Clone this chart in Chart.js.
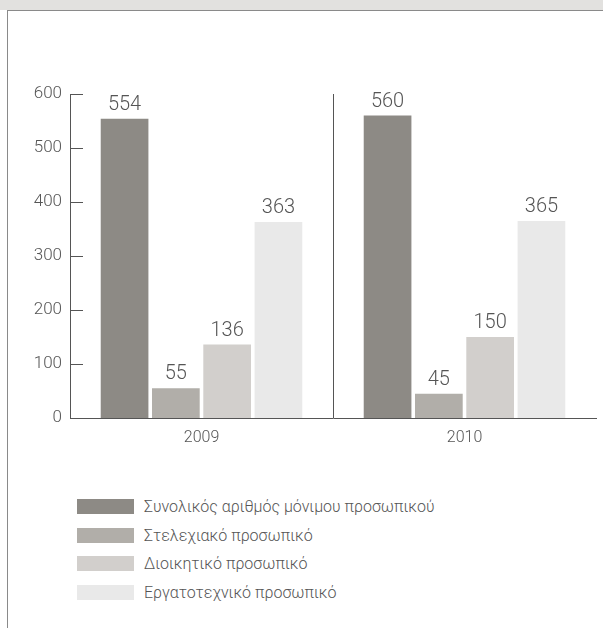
<!DOCTYPE html>
<html lang="el">
<head>
    <meta charset="UTF-8">
    <title>Προσωπικό 2009-2010</title>
    <style>
        body {
            margin: 0;
            padding: 0;
            width: 603px;
            height: 628px;
            overflow: hidden;
            background: #fff;
            font-family: Roboto, "Liberation Sans", Arial, sans-serif;
            font-weight: 300;
            color: #555;
        }

        .topband {
            position: absolute;
            left: 0; top: 0;
            width: 603px; height: 10px;
            background: #e2e1df;
        }

        .frame {
            position: absolute;
            left: 7px; top: 10px;
            width: 600px; height: 630px;
            border-top: 1px solid #8a8a8a;
            border-left: 1px solid #8a8a8a;
        }

        #chart-wrap {
            position: absolute;
            left: 0; top: 0;
            width: 603px; height: 460px;
        }

        #legend {
            position: absolute;
            left: 77px; top: 498px;
            margin: 0; padding: 0;
            list-style: none;
        }

        #legend li {
            height: 28.6px;
            display: flex;
            align-items: flex-start;
        }

        #legend .box {
            width: 57px;
            height: 15px;
            margin-top: 1px;
            margin-right: 10px;
        }

        #legend .txt {
            font-size: 16px;
            line-height: 17px;
            color: #555;
        }
    </style>
</head>
<body>
<div class="topband"></div>
<div class="frame"></div>
<div id="chart-wrap">
    <canvas id="bars" width="603" height="460"></canvas>
</div>
<ul id="legend"></ul>

<script src="https://cdn.jsdelivr.net/npm/chart.js"></script>
<script>
    var years = ['2009', '2010'];
    var seriesNames = [
        'Συνολικός αριθμός μόνιμου προσωπικού',
        'Στελεχιακό προσωπικό',
        'Διοικητικό προσωπικό',
        'Εργατοτεχνικό προσωπικό'
    ];
    var totalStaff = [554, 560];
    var executiveStaff = [55, 45];
    var adminStaff = [136, 150];
    var workerStaff = [363, 365];
    var yTicks = [0, 100, 200, 300, 400, 500, 600];

    var colors = ['#8d8a85', '#b1aea9', '#d2cfcc', '#e9e9e9'];
    var seriesData = [totalStaff, executiveStaff, adminStaff, workerStaff];

    var FONT = 'Roboto, "Liberation Sans", Arial, sans-serif';

    // value labels above each bar
    var valueLabels = {
        id: 'valueLabels',
        afterDatasetsDraw: function (chart) {
            var ctx = chart.ctx;
            ctx.save();
            ctx.font = '300 20px ' + FONT;
            ctx.fillStyle = '#555';
            ctx.textAlign = 'center';
            ctx.textBaseline = 'alphabetic';
            chart.data.datasets.forEach(function (ds, i) {
                chart.getDatasetMeta(i).data.forEach(function (bar, j) {
                    ctx.fillText(String(ds.data[j]), bar.x, bar.y - 9);
                });
            });
            ctx.restore();
        }
    };

    // short tick marks pointing into the plot from the y axis
    var innerTicks = {
        id: 'innerTicks',
        afterDraw: function (chart) {
            var y = chart.scales.y;
            var ctx = chart.ctx;
            ctx.save();
            ctx.strokeStyle = '#555';
            ctx.lineWidth = 1;
            yTicks.forEach(function (v) {
                var py = Math.round(y.getPixelForValue(v)) + 0.5;
                ctx.beginPath();
                ctx.moveTo(y.right, py);
                ctx.lineTo(y.right + 13, py);
                ctx.stroke();
            });
            ctx.restore();
        }
    };

    var ctx = document.getElementById('bars').getContext('2d');
    new Chart(ctx, {
        type: 'bar',
        data: {
            labels: years,
            datasets: seriesNames.map(function (name, i) {
                return {
                    label: name,
                    data: seriesData[i],
                    backgroundColor: colors[i],
                    borderWidth: 0,
                    barPercentage: 0.93,
                    categoryPercentage: 0.78
                };
            })
        },
        options: {
            responsive: false,
            animation: false,
            layout: {
                padding: {left: 0, right: 7, top: 94, bottom: 0}
            },
            plugins: {
                legend: {display: false},
                tooltip: {enabled: false}
            },
            scales: {
                x: {
                    grid: {
                        display: true,
                        offset: true,
                        drawTicks: false,
                        lineWidth: 1,
                        color: function (c) {
                            return c.index === 1 ? '#555' : 'rgba(0,0,0,0)';
                        }
                    },
                    border: {display: true, color: '#555', width: 1},
                    ticks: {
                        color: '#555',
                        padding: 10,
                        font: {family: FONT, size: 16, weight: 300}
                    },
                    afterFit: function (s) { s.height = 42; }
                },
                y: {
                    min: 0,
                    max: 600,
                    grid: {display: false, drawTicks: false},
                    border: {display: true, color: '#555', width: 1},
                    afterBuildTicks: function (s) {
                        s.ticks = yTicks.map(function (v) { return {value: v}; });
                    },
                    ticks: {
                        color: '#555',
                        padding: 8,
                        font: {family: FONT, size: 17, weight: 300}
                    },
                    afterFit: function (s) { s.width = 70; }
                }
            }
        },
        plugins: [valueLabels, innerTicks]
    });

    var legend = document.getElementById('legend');
    seriesNames.forEach(function (name, i) {
        var li = document.createElement('li');
        li.innerHTML = '<span class="box" style="background:' + colors[i] + '"></span>' +
            '<span class="txt">' + name + '</span>';
        legend.appendChild(li);
    });
</script>
</body>
</html>
